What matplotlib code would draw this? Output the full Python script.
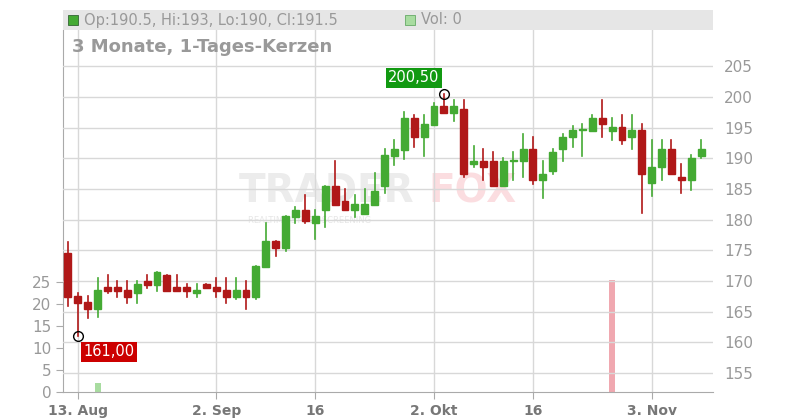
import numpy as np
import matplotlib.pyplot as plt
from matplotlib.patches import Rectangle

# daily candles, 12 Aug .. 6 Nov (trading days)
opens = [174.5, 167.5, 166.5, 165.4, 168.95, 168.95, 168.5, 168.0, 170.0, 169.3,
         171.0, 168.95, 168.95, 168.0, 169.5, 168.95, 168.5, 167.4, 168.5, 167.4,
         172.3, 176.5, 175.4, 180.5, 181.6, 179.4, 181.5, 185.5, 183.0, 181.5,
         180.9, 182.4, 185.4, 190.4, 191.4, 196.5, 193.4, 195.4, 198.5, 197.4,
         198.0, 189.0, 189.6, 189.6, 185.4, 189.5, 189.5, 191.5, 186.4, 188.0,
         191.5, 193.4, 194.6, 194.5, 196.5, 194.5, 195.1, 193.4, 194.6, 185.9,
         188.5, 191.5, 186.9, 186.4, 190.4]
closes = [167.4, 166.4, 165.4, 168.5, 168.4, 168.4, 167.4, 169.5, 169.3, 171.4,
          168.4, 168.4, 168.4, 168.5, 168.9, 168.4, 167.4, 168.5, 167.4, 172.4,
          176.5, 175.4, 180.6, 181.6, 179.8, 180.6, 185.5, 182.4, 181.5, 182.5,
          182.5, 184.6, 190.5, 191.5, 196.5, 193.4, 195.6, 198.5, 197.4, 198.5,
          187.5, 189.6, 188.5, 185.4, 189.6, 189.6, 191.5, 186.4, 187.5, 191.0,
          193.4, 194.6, 194.7, 196.5, 195.5, 195.1, 193.0, 194.6, 187.5, 188.5,
          191.5, 187.5, 186.4, 190.0, 191.5]
highs = [176.4, 168.0, 167.5, 170.4, 171.0, 170.0, 170.0, 170.0, 171.0, 171.4,
         171.0, 171.0, 169.5, 169.5, 169.5, 170.4, 170.4, 170.4, 170.0, 172.4,
         179.4, 176.5, 180.6, 182.1, 184.0, 181.6, 185.5, 189.6, 185.0, 184.0,
         185.0, 187.6, 191.5, 193.0, 197.6, 197.1, 197.1, 199.0, 200.5, 199.5,
         199.5, 192.0, 191.5, 191.0, 190.0, 191.0, 194.0, 193.4, 189.6, 191.5,
         194.0, 195.2, 195.6, 197.1, 199.5, 196.5, 197.1, 197.1, 195.6, 193.0,
         193.0, 193.0, 189.1, 190.5, 193.0]
lows = [165.9, 161.0, 163.9, 164.2, 168.0, 167.4, 166.4, 166.4, 168.9, 168.4,
        168.4, 168.4, 167.4, 167.4, 168.9, 167.4, 166.4, 167.0, 165.4, 167.0,
        172.3, 174.0, 174.9, 179.4, 179.4, 176.8, 178.8, 182.4, 181.5, 180.5,
        180.9, 182.4, 184.4, 188.9, 189.9, 191.9, 190.4, 195.4, 197.4, 196.0,
        186.9, 188.5, 186.4, 185.4, 185.4, 186.4, 186.9, 185.8, 183.5, 187.5,
        189.5, 191.9, 190.4, 194.5, 193.4, 193.0, 192.4, 191.5, 181.0, 183.9,
        186.4, 187.5, 184.4, 184.9, 190.0]
volumes = [0] * 65
volumes[3] = 2
volumes[55] = 25.5
vol_up = [True] * 65
vol_up[55] = False

tick_pos = [1, 15, 25, 37, 47, 59]
tick_labels = ["13. Aug", "2. Sep", "16", "2. Okt", "16", "3. Nov"]
price_ticks = [155, 160, 165, 170, 175, 180, 185, 190, 195, 200, 205]
vol_ticks = [0, 5, 10, 15, 20, 25]

GREEN = "#44aa33"
RED = "#b01818"
GRID = "#d8d8d8"
TXT = "#999999"

fig = plt.figure(figsize=(8, 4.2), dpi=100)
axv = fig.add_axes([63/800, 28/420, 650/800, 362/420])
ax = axv.twinx()
axv.patch.set_alpha(0)
ax.patch.set_alpha(0)

# volume
for i, v in enumerate(volumes):
    if v > 0:
        axv.bar(i, v, width=0.6, color="#a8dca0" if vol_up[i] else "#f0a8b0", zorder=1)
axv.set_ylim(0, 82.3)
axv.set_yticks(vol_ticks)

# candles
for i in range(len(opens)):
    o, c = opens[i], closes[i]
    col = GREEN if c >= o else RED
    ax.plot([i, i], [lows[i], highs[i]], color=col, lw=1.2, zorder=3)
    ax.add_patch(Rectangle((i - 0.35, min(o, c)), 0.7, max(abs(c - o), 0.15),
                           color=col, zorder=4))

ax.set_ylim(151.9, 210.9)
ax.set_yticks(price_ticks)
ax.set_xlim(-0.5, 65.2)
ax.grid(axis="y", color=GRID, lw=1)
axv.set_xticks(tick_pos)
axv.set_xticklabels(tick_labels)
axv.grid(axis="x", color=GRID, lw=1)
ax.set_axisbelow(True)

for a in (ax, axv):
    for s in a.spines.values():
        s.set_visible(False)
axv.spines["left"].set_visible(True)
axv.spines["left"].set_color("#aaaaaa")
axv.spines["bottom"].set_visible(True)
axv.spines["bottom"].set_color("#aaaaaa")
axv.tick_params(axis="y", colors=TXT, labelsize=11, length=5, color="#aaaaaa")
axv.tick_params(axis="x", colors="#aaaaaa", labelcolor="#777777", labelsize=10, length=5)
for t in axv.get_xticklabels():
    t.set_fontweight("bold")
ax.tick_params(axis="y", colors=TXT, labelsize=11, length=0, pad=8)

# min / max markers
imax = int(np.argmax(highs))
imin = int(np.argmin(lows))
ax.plot(imax, highs[imax], "o", ms=7, mfc="none", mec="black", zorder=6)
ax.plot(imin, lows[imin], "o", ms=7, mfc="none", mec="black", zorder=6)
ax.annotate("200,50", (imax, highs[imax]), xytext=(-3, 6), textcoords="offset points",
            ha="right", va="bottom", color="white", fontsize=10.5,
            bbox=dict(boxstyle="square,pad=0.15", fc="#119911", ec="none"), zorder=7)
ax.annotate("161,00", (imin, lows[imin]), xytext=(4, -6), textcoords="offset points",
            ha="left", va="top", color="white", fontsize=10.5,
            bbox=dict(boxstyle="square,pad=0.15", fc="#cc0000", ec="none"), zorder=7)

# watermark (behind the axes)
fig.text(0.298, 0.545, "TRADER", fontsize=28, fontweight="bold", color="#ececec",
         va="center", zorder=-1)
fig.text(0.535, 0.545, "FOX", fontsize=28, fontweight="bold", color="#fbdde0",
         va="center", zorder=-1)
fig.text(0.31, 0.468, "REALTIME STOCK SCREENING", fontsize=6, color="#e6e6e6", zorder=-1)

# header band
fig.patches.append(Rectangle((63/800, 390/420), 650/800, 20/420, transform=fig.transFigure,
                             fc="#e6e6e6", ec="none"))
fig.patches.append(Rectangle((68/800, 395/420), 10/800, 10/420, transform=fig.transFigure,
                             fc=GREEN, ec="#336633", lw=0.6))
fig.text(84/800, 400/420, "Op:190.5, Hi:193, Lo:190, Cl:191.5", fontsize=10.5,
         color=TXT, va="center")
fig.patches.append(Rectangle((405/800, 395/420), 10/800, 10/420, transform=fig.transFigure,
                             fc="#a8dca0", ec="#66aa66", lw=0.6))
fig.text(421/800, 400/420, "Vol: 0", fontsize=10.5, color=TXT, va="center")
fig.text(72/800, 373/420, "3 Monate, 1-Tages-Kerzen", fontsize=13, fontweight="bold",
         color="#999999", va="center")

fig.savefig("out.png", dpi=100)
